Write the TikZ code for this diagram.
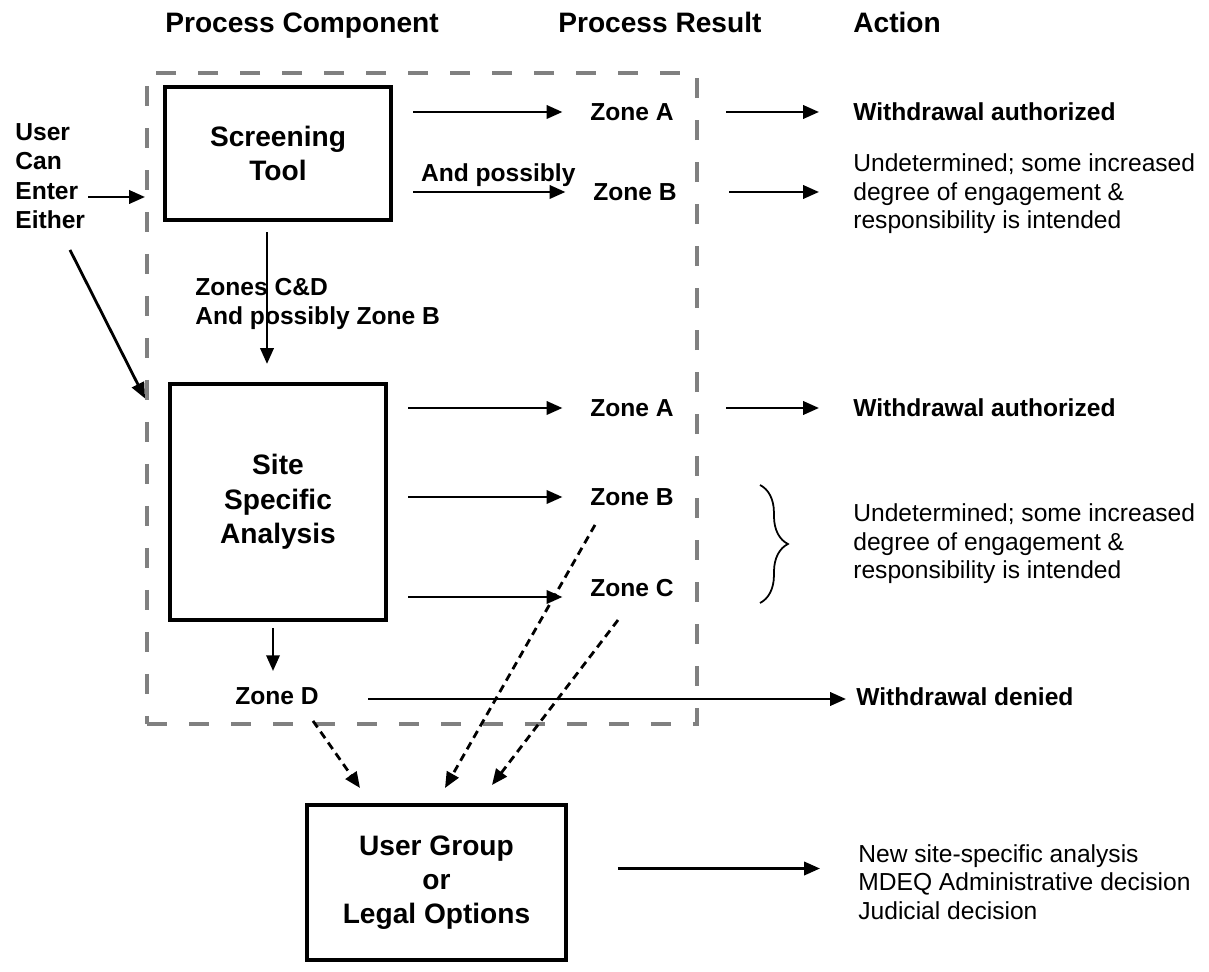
\documentclass[tikz,border=0pt]{standalone}
\usepackage{fontspec}
\setmainfont{Liberation Sans}
\usepackage{tikz}
\usepackage{xcolor}
\usetikzlibrary{arrows.meta, positioning, decorations.pathreplacing}
\definecolor{flowInk}{RGB}{0,0,0}
\definecolor{flowGray}{RGB}{128,128,128}

\begin{document}
\begin{tikzpicture}[x=0.02cm, y=-0.02cm,
      stage/.style={draw=flowInk, line width=2.3pt, align=center, font=\fontsize{16}{19.5}\selectfont\bfseries},
      dashframe/.style={draw=flowGray, line width=2.3pt, dash pattern=on 11.4pt off 12.5pt, minimum width=11cm,
      minimum height=13.02cm, inner sep=0},
      head/.style={anchor=base west, inner sep=0, font=\fontsize{16}{19}\selectfont\bfseries},
      zone/.style={inner sep=0, font=\fontsize{14}{16.7}\selectfont\bfseries},
      act/.style={anchor=west, inner sep=0, align=left, font=\fontsize{14}{16.2}\selectfont},
      actbold/.style={act, font=\fontsize{14}{16.2}\selectfont\bfseries},
      arrow/.style={-{Triangle[length=9pt, width=7.5pt]}, line width=1.6pt, draw=flowInk},
      rowarrow/.style={arrow, shorten <=0.4cm, shorten >=0.55cm},
      outarrow/.style={arrow, shorten <=1.04cm, shorten >=0.68cm},
      dasharrow/.style={arrow, dash pattern=on 4.5pt off 3pt},
      brace/.style={decorate, decoration={brace, amplitude=15.9pt}, line width=1pt, draw=flowInk}
    ]
    \useasboundingbox (0,0) rectangle (1209,972);

    \node[head] (hcomp) at (165,33) {Process Component};
    \node[head] (hres) at (558,33) {Process Result};
    \node[head] (hact) at (853,33) {Action};

    \node[dashframe] (proc) at (422,398.5) {};
    \node[stage, minimum width=4.52cm, minimum height=2.66cm] (screen) at (278,153.5) {Screening\\Tool};
    \node[stage, minimum width=4.32cm, minimum height=4.72cm, below=3.2cm of screen] (site) {Site\\Specific\\Analysis};
    \node[stage, minimum width=5.18cm, minimum height=3.1cm] (ugroup) at (436.5,882.5) {User Group\\or\\Legal Options};

    \node[zone] (zA1) at (632,112) {Zone A};
    \node[zone] (zB1) at (635,192) {Zone B};
    \node[zone] (zA2) at (632,408) {Zone A};
    \node[zone] (zB2) at (632,497) {Zone B};
    \node[zone] (zC) at (632,588) {Zone C};
    \node[zone] (zD) at (277,696) {Zone D};

    \node[zone, anchor=west, align=left] (user) at (15,176) {User\\Can\\Enter\\Either};
    \node[zone, anchor=west, align=left] (cdlbl) at (195,304) {Zones C\&D\\And possibly Zone B};

    \node[actbold] (act1) at (853,112) {Withdrawal authorized};
    \node[act] (act2) at (853,194) {Undetermined; some increased\\degree of engagement \&\\responsibility is intended};
    \node[actbold] (act3) at (853,408) {Withdrawal authorized};
    \node[act] (act4) at (853,544) {Undetermined; some increased\\degree of engagement \&\\responsibility is intended};
    \node[actbold] (act5) at (856,697) {Withdrawal denied};
    \node[act] (act6) at (858,882) {New site-specific analysis\\MDEQ Administrative decision\\Judicial decision};

    \draw[arrow, shorten <=0.06cm] ([yshift=-0.42cm]user.east) -- ([yshift=-0.42cm]user.east -| proc.west);
    \draw[arrow] ([xshift=1.1cm, yshift=-0.42cm]user.south west) -- (proc.west);

    \draw[rowarrow] (screen.east |- zA1) -- (zA1.west);
    \draw[rowarrow] (screen.east |- zB1) -- node[zone, above=2pt, xshift=3pt] (poss) {And possibly} (zB1.west);
    \draw[outarrow] (zA1.east) -- (act1.west);
    \draw[outarrow] (zB1.east) -- (act2.west |- zB1);
    \draw[arrow, shorten <=0.2cm, shorten >=0.36cm] ([xshift=-0.22cm]screen.south) -- ([xshift=-0.22cm]site.north);

    \draw[rowarrow] (site.east |- zA2) -- (zA2.west);
    \draw[rowarrow] (site.east |- zB2) -- (zB2.west);
    \draw[rowarrow] ([yshift=-0.18cm]site.east |- zC) -- ([yshift=-0.18cm]zC.west);
    \draw[outarrow] (zA2.east) -- (act3.west);
    \draw[brace] (760,485) -- (760,603);

    \draw[arrow, shorten <=0.12cm, shorten >=0.32cm] ([xshift=-0.1cm]site.south) -- ([xshift=-0.1cm]site.south |- zD.north);
    \draw[arrow, shorten <=0.98cm, shorten >=0.2cm] ([yshift=-0.06cm]zD.east) -- ([yshift=-0.06cm]zD.east -| act5.west);

    \draw[dasharrow] ([xshift=0.72cm, yshift=-0.32cm]zD.south) -- ([xshift=-1.53cm, yshift=0.3cm]ugroup.north);
    \draw[dasharrow] ([xshift=-0.74cm, yshift=-0.38cm]zB2.south) -- ([xshift=0.17cm, yshift=0.3cm]ugroup.north);
    \draw[dasharrow] ([xshift=-0.28cm, yshift=-0.46cm]zC.south) -- ([xshift=1.11cm, yshift=0.36cm]ugroup.north);
    \draw[arrow, shorten <=1.0cm, shorten >=0.76cm] ([yshift=0.28cm]ugroup.east) -- ([yshift=0.28cm]ugroup.east -| act6.west);
  \end{tikzpicture}
\end{document}
